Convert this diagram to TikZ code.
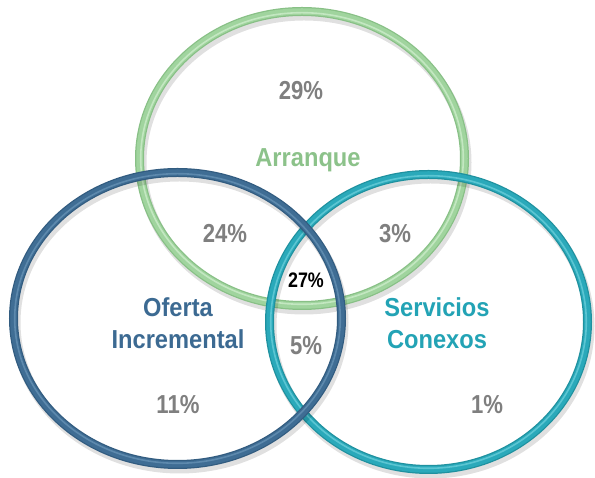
\documentclass[tikz,border=0pt]{standalone}
\usepackage{fontspec}
\setmainfont{Liberation Sans}
\newfontfamily\pctfont[FakeStretch=0.85]{Liberation Sans}
\newfontfamily\setfont[FakeStretch=0.91]{Liberation Sans}

\definecolor{arrgreen}{HTML}{A0D49E}
\definecolor{arrgreendark}{HTML}{88C086}
\definecolor{arrgreenlight}{HTML}{D2F0D0}
\definecolor{arrtext}{HTML}{8CC28A}
\definecolor{ofblue}{HTML}{3F6D94}
\definecolor{ofbluedark}{HTML}{325C80}
\definecolor{ofbluelight}{HTML}{6A95B8}
\definecolor{oftext}{HTML}{3C6A92}
\definecolor{scteal}{HTML}{2AA9BA}
\definecolor{sctealdark}{HTML}{1F919F}
\definecolor{sctteallight}{HTML}{70D2DD}
\definecolor{sctext}{HTML}{23A3B5}
\definecolor{pctgray}{HTML}{7F7F7F}
\colorlet{sctteal}{scteal}
\colorlet{scttealdark}{sctealdark}

% one ring of the diagram: centre x, centre y, x radius, y radius, colour
\newcommand\vennring[5]{%
  \draw [line width=10pt, black, opacity=0.12] (#1+2,#2-4) ellipse [x radius=#3, y radius=#4];
  \draw [line width=9pt, #5dark] (#1,#2) ellipse [x radius=#3, y radius=#4];
  \draw [line width=6.5pt, #5] (#1,#2) ellipse [x radius=#3, y radius=#4];
  \draw [line width=1.6pt, #5light, opacity=0.7] (#1,#2) ellipse [x radius=#3-1.2, y radius=#4-1.2];
}

\begin{document}
\begin{tikzpicture}[x=1pt,y=1pt,
  pct/.style={font=\pctfont\bfseries\fontsize{26}{26}\selectfont, text=pctgray, anchor=base},
  setname/.style={font=\setfont\bfseries\fontsize{26}{32}\selectfont, align=center, anchor=base},
]

\path [use as bounding box] (0,0) rectangle (595,478);

% RINGS
\vennring{302}{319.5}{162.5}{147}{arrgreen}
\vennring{428.5}{156}{159}{147.5}{sctteal}
\vennring{177.5}{159.5}{164}{146}{ofblue}

% SET NAMES
\node [setname, text=arrtext] (arr) at (308,311) {Arranque};
\node [setname, text=oftext] (of) at (178,129) {Oferta\\Incremental};
\node [setname, text=sctext] (sc) at (437,129) {Servicios\\Conexos};

% PERCENTAGES
\node [pct] (p-arr) at (301,378) {29\%};
\node [pct] (p-arrof) at (225,235) {24\%};
\node [pct] (p-arrsc) at (395,235) {3\%};
\node [pct, text=black, font=\pctfont\bfseries\fontsize{21}{21}\selectfont] (p-all) at (306,190) {27\%};
\node [pct] (p-ofsc) at (306,123) {5\%};
\node [pct] (p-of) at (178,64) {11\%};
\node [pct] (p-sc) at (487,64) {1\%};

\end{tikzpicture}
\end{document}
